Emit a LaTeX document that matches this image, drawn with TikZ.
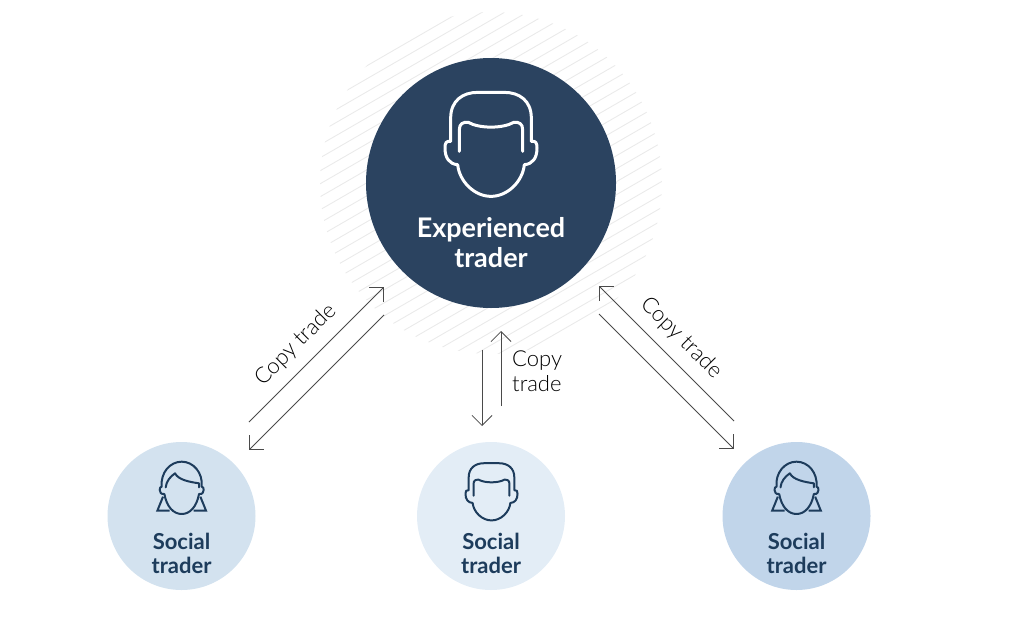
\documentclass[tikz,border=0pt]{standalone}
\usepackage{fontspec}
\setmainfont{Lato}
\newfontfamily\lightfont{Lato Light}
\usetikzlibrary{arrows.meta}
\definecolor{navy}{HTML}{2B4360}
\definecolor{ink}{HTML}{1D3C5C}
\definecolor{hatchc}{HTML}{EAEAEA}
\definecolor{arrowc}{HTML}{4A4A4A}
\definecolor{soca}{HTML}{D3E2EF}
\definecolor{socb}{HTML}{E3EDF6}
\definecolor{socc}{HTML}{C1D5EA}
\tikzset{
  bigcirc/.style={circle,fill=navy,draw=none,minimum size=250pt,inner sep=0pt},
  soccirc/.style={circle,draw=none,minimum size=148pt,inner sep=0pt},
  biglabel/.style={text=white,font=\fontsize{27}{32}\selectfont\bfseries,align=center,inner sep=0pt},
  soclabel/.style={text=ink,font=\fontsize{22}{26}\selectfont\bfseries,align=center,inner sep=0pt},
  copylabel/.style={text=black,font=\fontsize{22}{25.5}\lightfont\selectfont,align=left,inner sep=0pt},
  flow/.style={draw=arrowc,line width=0.8pt,-{Straight Barb[length=10pt,width=20pt,line width=0.8pt]}},
  malehead/.pic={
    \draw[pic actions,line cap=round,line join=round]
      (-100,60) .. controls (-125,58) and (-138,40) .. (-138,10)
      .. controls (-138,-5) and (-135,-12) .. (-121,-10)
      -- (-121,-80) .. controls (-121,-132) and (-85,-157) .. (-40,-157)
      -- (40,-157) .. controls (85,-157) and (121,-132) .. (121,-80)
      -- (121,-10) .. controls (135,-12) and (138,-5) .. (138,10)
      .. controls (138,40) and (125,58) .. (100,60)
      .. controls (95,110) and (50,155) .. (0,155)
      .. controls (-50,155) and (-95,110) .. (-100,60);
    \draw[pic actions,line cap=round,line join=round]
      (-95,20) -- (-95,-45) .. controls (-95,-62) and (-85,-69) .. (-68,-67)
      .. controls (-35,-48) and (35,-48) .. (68,-67)
      .. controls (85,-69) and (95,-62) .. (95,-45) -- (95,20);
  },
  femalehead/.pic={
    \draw[pic actions,line cap=round,line join=round]
      (-52,12) .. controls (-62,14) and (-66,6) .. (-66,0)
      .. controls (-66,-6) and (-64,-10) .. (-60,-10)
      .. controls (-64,-52) and (-35,-85) .. (0,-85)
      .. controls (35,-85) and (64,-52) .. (60,-10)
      .. controls (64,-10) and (66,-6) .. (66,0)
      .. controls (66,6) and (62,14) .. (52,12)
      .. controls (45,50) and (25,72) .. (0,72)
      .. controls (-25,72) and (-45,50) .. (-52,12);
    \draw[pic actions,line cap=round,line join=round]
      (-48,-8) .. controls (-46,-26) and (-35,-40) .. (-20,-50)
      .. controls (-10,-30) and (25,-24) .. (52,-20) -- (52,-8);
    \draw[pic actions,line join=miter]
      (-56,20) -- (-73,62) -- (-36,62);
    \draw[pic actions,line join=miter]
      (56,20) -- (73,62) -- (36,62);
  }
}
\begin{document}
\begin{tikzpicture}[x=1pt,y=-1pt]
\useasboundingbox (0,0) rectangle (1024,642);
% hatching
\begin{scope}
  \clip (491,183) circle (171pt);
  \foreach \k in {-2,...,32}{
    \draw[hatchc,line width=0.9pt] (300,{104.4+13*\k-39}) -- (700,{104.4+13*\k-39-231});
  }
\end{scope}
% main circles
\node[bigcirc] (exp) at (491,183) {};
\node[soccirc,fill=soca] (s1) at (181.5,516) {};
\node[soccirc,fill=socb] (s2) at (491,516) {};
\node[soccirc,fill=socc] (s3) at (796.5,516) {};
% icons
\coordinate (i0) at (491,144.7);
\coordinate (i1) at (181.7,490);
\coordinate (i2) at (491.5,492);
\coordinate (i3) at (796.5,490);
\pic[draw=white,line width=3pt,x=0.3333pt,y=-0.3333pt] at (i0) {malehead};
\pic[draw=ink,line width=2pt,x=0.1885pt,y=-0.1833pt] at (i2) {malehead};
\pic[draw=ink,line width=2pt,x=0.3333pt,y=-0.3333pt] at (i1) {femalehead};
\pic[draw=ink,line width=2pt,x=0.3333pt,y=-0.3333pt] at (i3) {femalehead};
% labels
\node[biglabel] (expa) at (491,229.5) {Experienced};
\node[biglabel] (expb) at (491,258) {trader};
\node[soclabel] (s1a) at (181.5,541) {Social};
\node[soclabel] (s1b) at (181.5,565) {trader};
\node[soclabel] (s2a) at (491,541) {Social};
\node[soclabel] (s2b) at (491,565) {trader};
\node[soclabel] (s3a) at (796.5,541) {Social};
\node[soclabel] (s3b) at (796.5,565) {trader};
% connector ends
\coordinate (la) at (249,422); \coordinate (lb) at (384,287);
\coordinate (lc) at (384,315); \coordinate (ld) at (249,450);
\coordinate (ca) at (501,406); \coordinate (cb) at (501,331);
\coordinate (cc) at (482,350); \coordinate (cd) at (482,426);
\coordinate (ra) at (734,421); \coordinate (rb) at (599,286);
\coordinate (rc) at (599,314); \coordinate (rd) at (734,449);
\draw[flow] (la) -- (lb);
\draw[flow] (lc) -- (ld);
\draw[flow] (ca) -- (cb);
\draw[flow] (cc) -- (cd);
\draw[flow] (ra) -- (rb);
\draw[flow] (rc) -- (rd);
% connector labels
\node[copylabel,rotate=45] (tl) at (296,345) {Copy trade};
\node[copylabel,rotate=-45] (tr) at (681,338) {Copy trade};
\node[copylabel,anchor=west] (tc) at (512,371) {Copy\\trade};
\end{tikzpicture}
\end{document}
